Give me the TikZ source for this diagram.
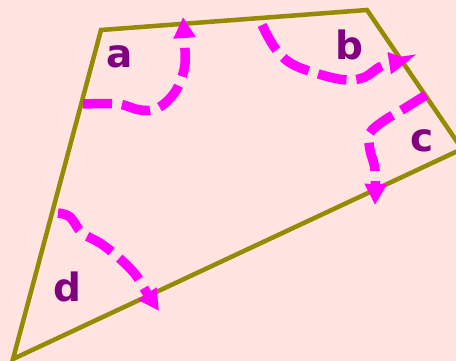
\documentclass[tikz,border=0pt]{standalone}
\usepackage{fontspec}
\setmainfont{DejaVu Sans}
\usetikzlibrary{arrows.meta}
\definecolor{bgpink}{RGB}{255,228,225}
\definecolor{edgeolive}{RGB}{150,138,0}
\definecolor{lblpurple}{RGB}{128,0,128}
\definecolor{arrmag}{RGB}{255,0,255}
\tikzset{
  edge/.style={draw=edgeolive, line width=4.5pt, line join=miter},
  lbl/.style={text=lblpurple, font=\fontsize{39}{42}\selectfont\bfseries, anchor=base, inner sep=0pt},
  turn/.style={draw=arrmag, line width=9.5pt, dash pattern=on 29pt off 10pt,
    -{Triangle[length=21pt,width=21pt]}}
}
\begin{document}
\begin{tikzpicture}[x=1pt,y=-1pt]
\fill[bgpink] (0,0) rectangle (456,361);
\useasboundingbox (0,0) rectangle (456,361);
\coordinate (A) at (101,30);
\coordinate (B) at (367,10);
\coordinate (C) at (462,149);
\coordinate (D) at (13,359);
\draw[edge] (A) -- (B) -- (C) -- (D) -- cycle;
\node[lbl] (la) at (120,68) {a};
\node[lbl] (lb) at (349,60) {b};
\node[lbl] (lc) at (422,152) {c};
\node[lbl] (ld) at (67,301) {d};
\draw[turn] plot[smooth, tension=0.6] coordinates {(83,104) (118,104) (140,110) (158,108) (175,92) (184,70) (185,50) (183,17)};
\draw[turn] plot[smooth, tension=0.6] coordinates {(262,25) (275,48) (292,64) (322,75) (347,80) (365,77) (382,66) (410,60)};
\draw[turn] plot[smooth, tension=0.6] coordinates {(426,95) (402,110) (385,120) (370,133) (370,150) (375,170) (375,205)};
\draw[turn] plot[smooth, tension=0.6] coordinates {(58,213) (70,217) (82,233) (100,243) (118,257) (135,274) (145,290) (159,311)};
\end{tikzpicture}
\end{document}
